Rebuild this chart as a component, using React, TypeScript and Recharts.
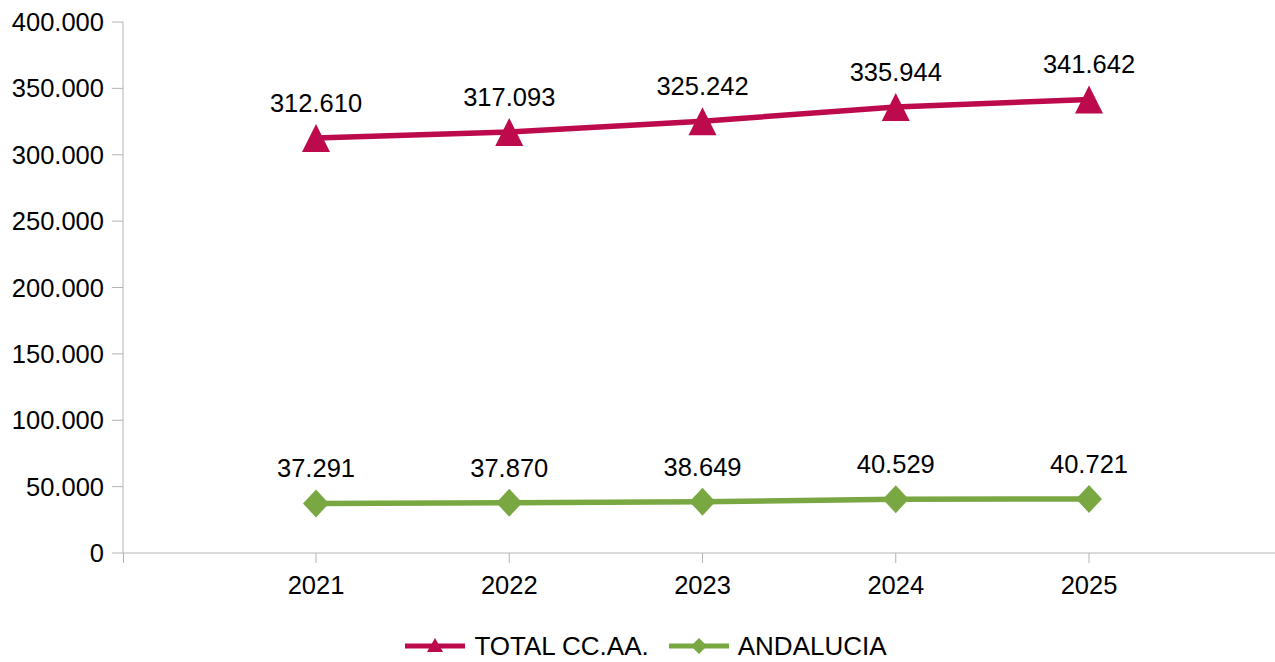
import React from 'react';
import { LineChart, Line, XAxis, YAxis, LabelList } from 'recharts';

const years = ['2021', '2022', '2023', '2024', '2025'];
const totalCCAA = [312610, 317093, 325242, 335944, 341642];
const andalucia = [37291, 37870, 38649, 40529, 40721];
const yTicks = [0, 50000, 100000, 150000, 200000, 250000, 300000, 350000, 400000];

const seriesNames = ['TOTAL CC.AA.', 'ANDALUCIA'];
const RED = '#bd0a4c';
const GREEN = '#79a843';
const AXIS = '#b3b3b3';
const FONT = '"Liberation Sans", Arial, sans-serif';

const data = years.map((y, i) => ({ year: y, total: totalCCAA[i], and: andalucia[i] }));

const fmt = (v: number) => String(Math.round(v)).replace(/\B(?=(\d{3})+(?!\d))/g, '.');

function Triangle({ cx, cy, fill }: any) {
  if (cx == null || cy == null) return null;
  return <polygon points={`${cx},${cy - 14} ${cx + 14},${cy + 14} ${cx - 14},${cy + 14}`} fill={fill} />;
}

function Diamond({ cx, cy, fill }: any) {
  if (cx == null || cy == null) return null;
  return <polygon points={`${cx},${cy - 14} ${cx + 13},${cy} ${cx},${cy + 14} ${cx - 13},${cy}`} fill={fill} />;
}

function LegendIcon({ color, shape }: { color: string; shape: 'tri' | 'dia' }) {
  return (
    <svg width={60} height={20} style={{ display: 'block' }}>
      <line x1={0} y1={10} x2={60} y2={10} stroke={color} strokeWidth={5} />
      {shape === 'tri'
        ? <polygon points="30,2 38,16 22,16" fill={color} />
        : <polygon points="30,2 38,10 30,18 22,10" fill={color} />}
    </svg>
  );
}

export default function App() {
  return (
    <div style={{ position: 'absolute', left: 0, top: 0, width: 1275, height: 662, background: '#fff', overflow: 'hidden', fontFamily: FONT }}>
      <LineChart width={1275} height={662} data={data} margin={{ top: 22, right: 0, bottom: 0, left: 0 }}>
        <XAxis
          dataKey="year"
          height={109}
          padding={{ left: 193, right: 186 }}
          stroke={AXIS}
          tickSize={10}
          tickMargin={13}
          tick={{ fill: '#000', fontSize: 25.5, fontFamily: FONT }}
        />
        <YAxis
          width={123}
          domain={[0, 400000]}
          ticks={yTicks}
          tickFormatter={fmt}
          stroke={AXIS}
          tickSize={11}
          tickMargin={8}
          tick={{ fill: '#000', fontSize: 25.5, fontFamily: FONT }}
          interval={0}
        />
        <Line
          dataKey="total"
          name={seriesNames[0]}
          stroke={RED}
          strokeWidth={5.5}
          dot={<Triangle fill={RED} />}
          activeDot={false}
          isAnimationActive={false}
        >
          <LabelList dataKey="total" position="top" offset={26} formatter={(v: any) => fmt(v)} fill="#000" fontSize={25.5} fontFamily={FONT} />
        </Line>
        <Line
          dataKey="and"
          name={seriesNames[1]}
          stroke={GREEN}
          strokeWidth={5.5}
          dot={<Diamond fill={GREEN} />}
          activeDot={false}
          isAnimationActive={false}
        >
          <LabelList dataKey="and" position="top" offset={26} formatter={(v: any) => fmt(v)} fill="#000" fontSize={25.5} fontFamily={FONT} />
        </Line>
      </LineChart>
      <div style={{ position: 'absolute', left: 123, top: 553, width: 1, height: 10, background: AXIS }} />
      <div style={{ position: 'absolute', left: 0, width: 1275, paddingLeft: 17, boxSizing: 'border-box', top: 632, display: 'flex', justifyContent: 'center', alignItems: 'center', fontSize: 26, color: '#000', lineHeight: '28px' }}>
        <LegendIcon color={RED} shape="tri" />
        <span style={{ marginLeft: 9, marginRight: 20 }}>{seriesNames[0]}</span>
        <LegendIcon color={GREEN} shape="dia" />
        <span style={{ marginLeft: 9 }}>{seriesNames[1]}</span>
      </div>
    </div>
  );
}
